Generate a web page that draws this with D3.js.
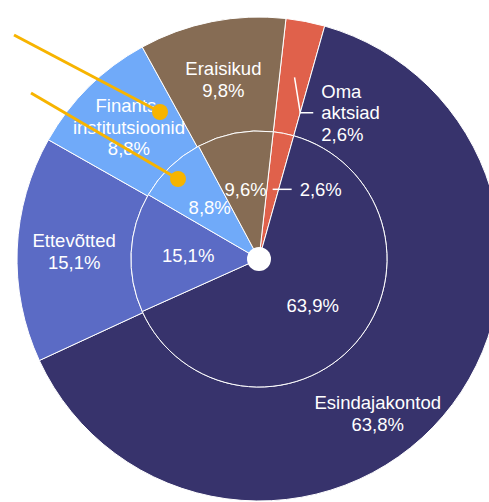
<!DOCTYPE html>
<html>
<head>
<meta charset="utf-8">
<script src="https://cdn.jsdelivr.net/npm/d3@7"></script>
<style>
    body { margin: 0; background: #fff; }
    text { font-family: "Liberation Sans", Arial, sans-serif; font-size: 18.5px; fill: #fff; }
</style>
</head>
<body>
<svg id="chart" width="489" height="502"></svg>
<script>
// data, clockwise from the top
let categories = ["Oma aktsiad", "Esindajakontod", "Ettevõtted", "Finantsinstitutsioonid", "Eraisikud"],
    outerLabels = [["Oma", "aktsiad"], ["Esindajakontod"], ["Ettevõtted"], ["Finants-", "institutsioonid"], ["Eraisikud"]],
    outerValues = [2.6, 63.8, 15.1, 8.8, 9.8],
    innerValues = [2.6, 63.9, 15.1, 8.8, 9.6],
    colors = ["#e0614b", "#37336c", "#5b6bc5", "#70aaf9", "#866c54"];

let svg = d3.select("#chart"),
    cx = 259,
    cy = 259,
    r_outer = 242,
    r_inner = 128,
    r_hole = 12,
    startAngle = 6.4 * Math.PI / 180,
    fmt = v => d3.format(".1f")(v).replace(".", ","),
    lh = 21.5;

let g = svg.append("g").attr("transform", "translate(" + cx + "," + cy + ")");

let pie = d3.pie().sort(null).startAngle(startAngle).endAngle(startAngle + 2 * Math.PI);
let outerArcs = pie(outerValues),
    innerArcs = pie(innerValues);

let arcOuter = d3.arc().innerRadius(r_inner).outerRadius(r_outer),
    arcInner = d3.arc().innerRadius(0).outerRadius(r_inner);

g.append("g").attr("class", "outer").selectAll("path")
    .data(outerArcs)
    .enter().append("path")
    .attr("d", arcOuter)
    .attr("fill", (d, i) => colors[i])
    .attr("stroke", "#fff")
    .attr("stroke-width", 1);

g.append("g").attr("class", "inner").selectAll("path")
    .data(innerArcs)
    .enter().append("path")
    .attr("d", arcInner)
    .attr("fill", (d, i) => colors[i])
    .attr("stroke", "#fff")
    .attr("stroke-width", 1);

g.append("circle").attr("r", r_hole).attr("fill", "#fff");

// polar helper (angle clockwise from top)
function polar(a, r) {
    return [r * Math.sin(a), -r * Math.cos(a)];
}
function mid(d) {
    return (d.startAngle + d.endAngle) / 2;
}

function textBlock(lines, x, y, anchor) {
    let t = g.append("text").attr("text-anchor", anchor);
    lines.forEach((s, i) => {
        t.append("tspan")
            .attr("x", x)
            .attr("y", y + (i - (lines.length - 1) / 2) * lh)
            .attr("dy", "0.35em")
            .text(s);
    });
}

// outer labels
let labelShift = [0, 12 * Math.PI / 180, 0, 0, 0],
    labelRad = [185, 195, 185, 185, 183];
outerArcs.forEach((d, i) => {
    let lines = outerLabels[i].concat([fmt(outerValues[i]) + "%"]);
    if (i === 0) {
        // leader line for small slice
        let p1 = polar(mid(d), 185),
            p2 = polar(d.endAngle, 152),
            p3 = [p2[0] + 13, p2[1]];
        g.append("polyline")
            .attr("points", [p1, p2, p3].map(p => p.join(",")).join(" "))
            .attr("fill", "none")
            .attr("stroke", "#fff")
            .attr("stroke-width", 1.5);
        textBlock(lines, p3[0] + 8, p3[1], "start");
    } else {
        let p = polar(mid(d) + labelShift[i], labelRad[i]);
        textBlock(lines, p[0], p[1], "middle");
    }
});

// inner labels
innerArcs.forEach((d, i) => {
    let p = polar(mid(d), 71);
    if (i === 0) {
        let p2 = [p[0] + 19, p[1]];
        g.append("line")
            .attr("x1", p[0]).attr("y1", p[1])
            .attr("x2", p2[0]).attr("y2", p2[1])
            .attr("stroke", "#fff")
            .attr("stroke-width", 1.5);
        textBlock([fmt(innerValues[i]) + "%"], p2[0] + 8, p2[1], "start");
    } else {
        textBlock([fmt(innerValues[i]) + "%"], p[0], p[1], "middle");
    }
});

// orange pointer annotations (offsets from centre)
let pointers = [
    {from: [-245, -224], to: [-99, -147]},
    {from: [-228, -166], to: [-81, -80]}
];
let ann = g.append("g").attr("class", "pointers");
pointers.forEach(p => {
    ann.append("line")
        .attr("x1", p.from[0]).attr("y1", p.from[1])
        .attr("x2", p.to[0]).attr("y2", p.to[1])
        .attr("stroke", "#f7b400")
        .attr("stroke-width", 3);
    ann.append("circle")
        .attr("cx", p.to[0]).attr("cy", p.to[1])
        .attr("r", 8)
        .attr("fill", "#f7b400");
});
</script>
</body>
</html>
